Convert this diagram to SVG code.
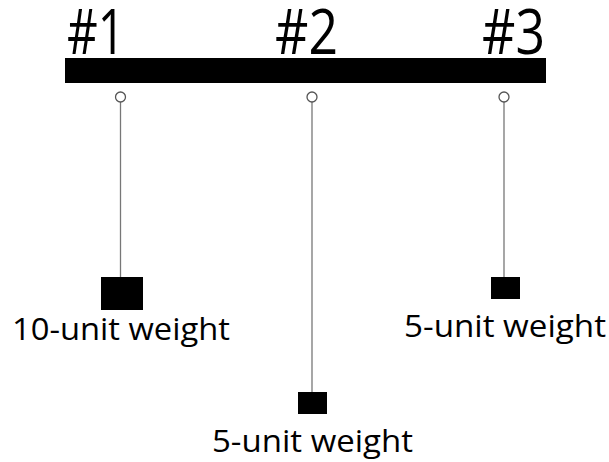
<svg xmlns="http://www.w3.org/2000/svg" width="609" height="462" viewBox="0 0 609 462">
<style>
.num{font-family:"Open Sans","Noto Sans","Liberation Sans",sans-serif;font-size:62px;fill:#000}
.lbl{font-family:"Open Sans","Noto Sans","Liberation Sans",sans-serif;font-size:31px;fill:#000}
.hook{fill:#fff;stroke:#555;stroke-width:1.3}
.cord{stroke:#777;stroke-width:1.3;fill:none}
.wt{fill:#000}
</style>
<rect width="609" height="462" fill="#fff"/>
<g id="beam">
<rect x="65" y="58" width="481" height="25" fill="#000"/>
<text class="num" x="67" y="54" textLength="58" lengthAdjust="spacingAndGlyphs">#1</text>
<text class="num" x="275" y="54" textLength="63" lengthAdjust="spacingAndGlyphs">#2</text>
<text class="num" x="482" y="54" textLength="63" lengthAdjust="spacingAndGlyphs">#3</text>
</g>
<g id="connectors">
<line class="cord" x1="120.5" y1="102" x2="120.5" y2="277"/>
<line class="cord" x1="312" y1="102" x2="312" y2="392"/>
<line class="cord" x1="504" y1="102" x2="504" y2="277"/>
</g>
<g id="hook1"><circle class="hook" cx="120.5" cy="97" r="5"/></g>
<g id="hook2"><circle class="hook" cx="312" cy="97" r="5"/></g>
<g id="hook3"><circle class="hook" cx="504" cy="97" r="5"/></g>
<g id="weight1">
<rect class="wt" x="101" y="277" width="42" height="33"/>
<text class="lbl" x="12" y="340" textLength="218" lengthAdjust="spacingAndGlyphs">10-unit weight</text>
</g>
<g id="weight2">
<rect class="wt" x="298" y="392" width="29" height="22"/>
<text class="lbl" x="212" y="452" textLength="201" lengthAdjust="spacingAndGlyphs">5-unit weight</text>
</g>
<g id="weight3">
<rect class="wt" x="491" y="277" width="29" height="22"/>
<text class="lbl" x="404" y="337" textLength="202" lengthAdjust="spacingAndGlyphs">5-unit weight</text>
</g>
</svg>
